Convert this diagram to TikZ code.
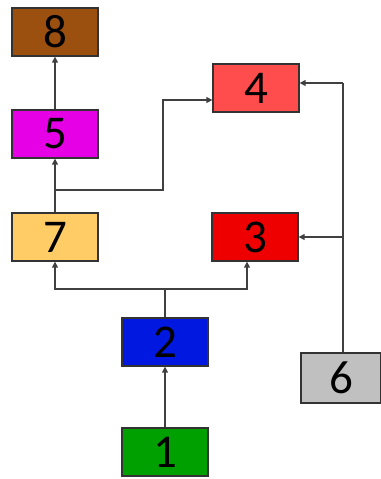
\documentclass[tikz,border=0pt]{standalone}
\usepackage{fontspec}
\setmainfont{Carlito}
\usetikzlibrary{arrows.meta}
\begin{document}
\begin{tikzpicture}[x=1pt,y=-1pt,
  box/.style={draw=black!80,line width=1.3pt,minimum width=86pt,minimum height=48pt,inner sep=0pt,font=\fontsize{47}{47}\selectfont,text=black},
  conn/.style={draw=black!75,line width=1.4pt,-{Triangle[length=6pt,width=6pt]}},
  plain/.style={draw=black!75,line width=1.4pt}]
\useasboundingbox (0,0) rectangle (380,479);
\definecolor{c8}{RGB}{156,80,16}
\definecolor{c5}{RGB}{230,0,230}
\definecolor{c7}{RGB}{255,204,102}
\definecolor{c4}{RGB}{255,76,76}
\definecolor{c3}{RGB}{238,0,0}
\definecolor{c2}{RGB}{0,24,224}
\definecolor{c1}{RGB}{0,160,0}
\definecolor{c6}{RGB}{192,192,192}
\node[box,fill=c8] (n8) at (55,32) {8};
\node[box,fill=c5] (n5) at (55,134) {5};
\node[box,fill=c7] (n7) at (55,237) {7};
\node[box,fill=c4] (n4) at (256,88) {4};
\node[box,fill=c3] (n3) at (255,237) {3};
\node[box,fill=c2] (n2) at (165,342) {2};
\node[box,fill=c1] (n1) at (165,452) {1};
\node[box,fill=c6,minimum width=80pt,minimum height=50pt] (n6) at (341,378) {6};
\coordinate (j75) at (55,190);
\coordinate (j2) at (165,289);
\coordinate (j6a) at (343,83);
\coordinate (j6b) at (343,237);
\draw[conn] (n5.north) -- (n8.south);
\draw[conn] (n7.north) -- (n5.south);
\draw[conn] (j75) -| (163,100) -- (n4.west |- 0,100);
\draw[plain] (n2.north) -- (j2);
\draw[conn] (j2) -| (n7.south);
\draw[conn] (j2) -| (n3.south -| 247,0);
\draw[conn] (n1.north) -- (n2.south);
\draw[plain] (n6.north -| j6a) -- (j6a);
\draw[conn] (j6a) -- (n4.east |- j6a);
\draw[conn] (j6b) -- (n3.east);
\end{tikzpicture}
\end{document}
